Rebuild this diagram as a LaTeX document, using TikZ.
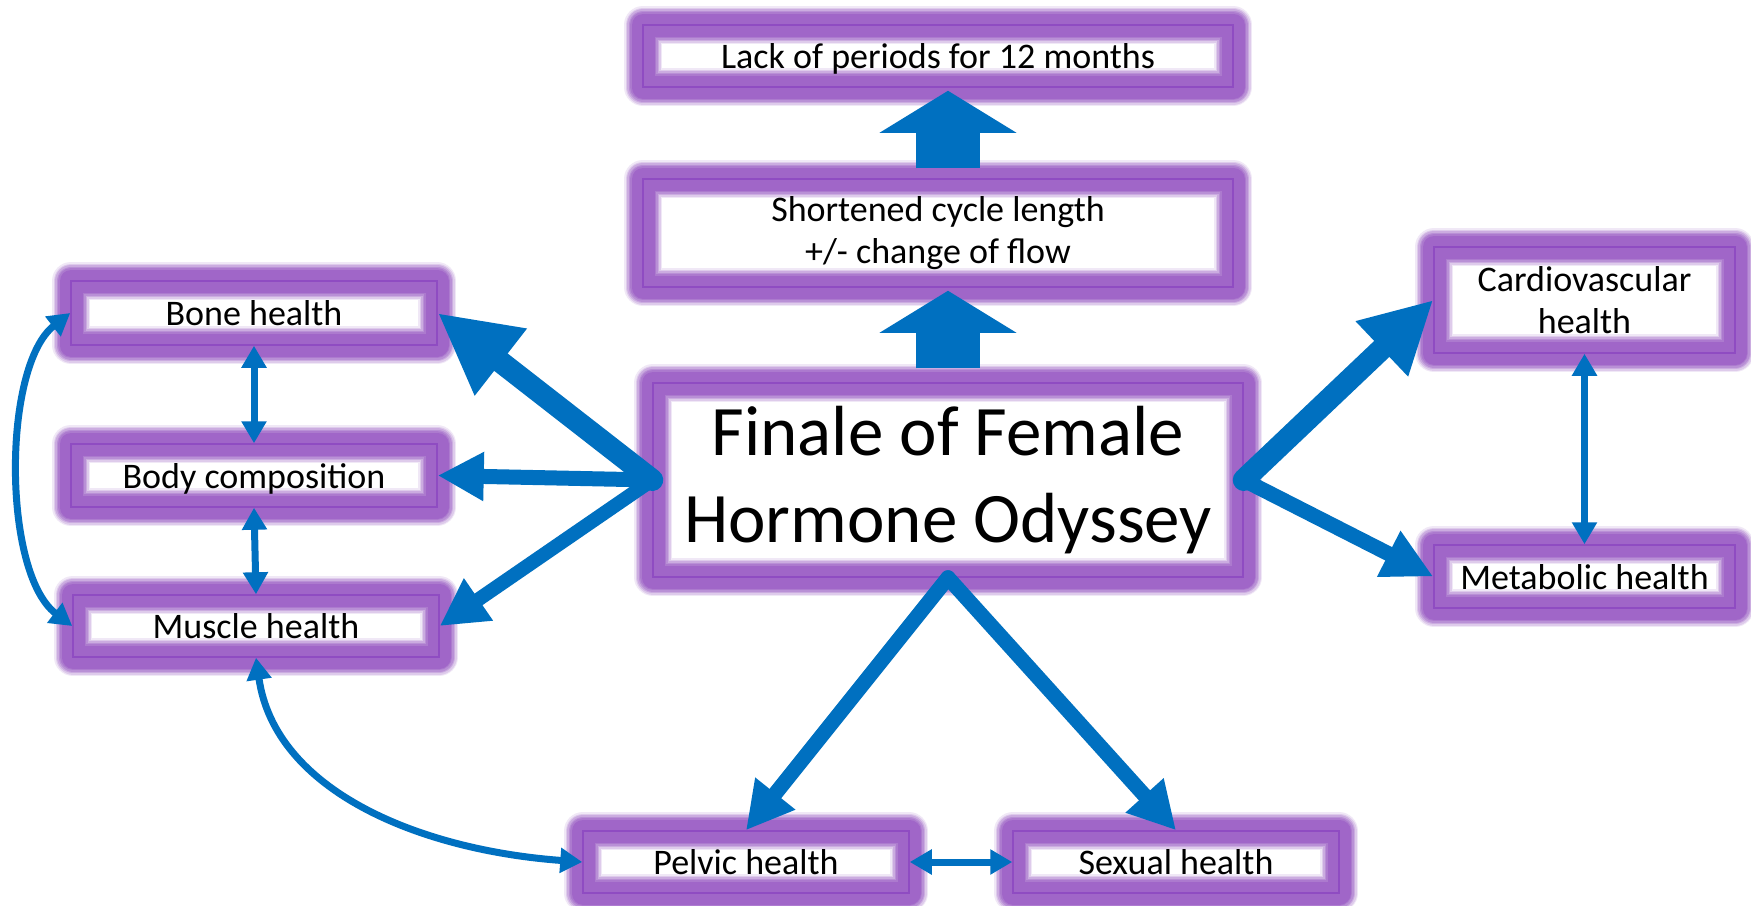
\documentclass[tikz,border=0pt]{standalone}
\usepackage{fontspec}
\setmainfont{Carlito}
\usetikzlibrary{arrows.meta,calc}
\definecolor{ablue}{RGB}{0,112,192}
\definecolor{glowp}{RGB}{160,102,200}
\definecolor{edgep}{RGB}{143,76,194}
\tikzset{
  box/.style={rectangle, inner sep=0pt, draw=edgep, line width=1.5pt,
    font=\fontsize{36}{42}\selectfont, align=center,
    preaction={draw=glowp, line width=38pt, draw opacity=0.15, line join=round},
    preaction={draw=glowp, line width=35pt, draw opacity=0.22, line join=round},
    preaction={draw=glowp, line width=32pt, draw opacity=0.3, line join=round},
    preaction={draw=glowp, line width=29pt, draw opacity=0.4, line join=round},
    preaction={draw=glowp, line width=26pt, draw opacity=0.5, line join=round},
    preaction={draw=glowp, line width=23pt, line join=round}},
  oneline/.style={text height=25pt, text depth=0pt},
  bigarrow/.style={draw=ablue, line cap=round},
  blockarrow/.style={draw=ablue, line width=64pt, line cap=butt,
    arrows={-Triangle[length=42pt,width=135pt]}},
  thinarrow/.style={draw=ablue, line width=7pt,
    arrows={Triangle[length=22pt,width=24pt]-Triangle[length=22pt,width=24pt]}},
}
\begin{document}
\begin{tikzpicture}[x=1pt,y=-1pt]
\fill[white] (0,0) rectangle (1751,905);
\useasboundingbox (0,0) rectangle (1751,905);

% boxes
\node[box, oneline, minimum width=590pt, minimum height=62pt] (lack) at (938,56) {Lack of periods for 12 months};
\node[box, minimum width=590pt, minimum height=108pt] (short) at (938,233) {Shortened cycle length\\+/- change of flow};
\node[box, font=\fontsize{71}{87}\selectfont, minimum width=590pt, minimum height=194pt] (main) at (948,480) {Finale of Female\\Hormone Odyssey};
\node[box, oneline, minimum width=366pt, minimum height=64pt] (bone) at (254,313) {Bone health};
\node[box, oneline, minimum width=366pt, minimum height=63pt] (body) at (254,475.5) {Body composition};
\node[box, oneline, minimum width=366pt, minimum height=62pt] (muscle) at (256,626) {Muscle health};
\node[box, minimum width=301pt, minimum height=106pt] (cardio) at (1584.5,300) {Cardiovascular\\health};
\node[box, oneline, minimum width=301pt, minimum height=63pt] (metab) at (1584.5,576.5) {Metabolic health};
\node[box, oneline, minimum width=326pt, minimum height=62pt] (pelvic) at (746,862) {Pelvic health};
\node[box, oneline, minimum width=326pt, minimum height=62pt] (sexual) at (1176,862) {Sexual health};

% block arrows upward
\draw[blockarrow] ($(main.north |- short.north)+(0,-10)$) -- ($(main.north |- lack.south)+(0,3)$);
\draw[blockarrow] ($(main.north)+(0,-14)$) -- ($(main.north |- short.south)+(0,3)$);

% hub arrows
\draw[bigarrow, line width=22pt, -{Triangle[length=80pt,width=79pt]}] (main.west) -- (bone.east);
\draw[bigarrow, line width=15pt, -{Triangle[length=46pt,width=46pt]}] (main.west) -- (body.east);
\draw[bigarrow, line width=14pt, -{Triangle[length=47pt,width=48pt]}] (main.west) -- (muscle.east);
\draw[bigarrow, line width=22pt, -{Triangle[length=71pt,width=71pt]}] (main.east) -- (cardio.west);
\draw[bigarrow, line width=15pt, -{Triangle[length=50pt,width=48pt]}] (main.east) -- (metab.west);
\draw[bigarrow, line width=15pt, -{Triangle[length=47pt,width=48pt]}] (main.south) -- (pelvic.north);
\draw[bigarrow, line width=15pt, -{Triangle[length=47pt,width=48pt]}] (main.south) -- (sexual.north);

% thin double arrows
\draw[thinarrow] (bone.south) -- (body.north);
\draw[thinarrow] (body.south) -- (muscle.north);
\draw[thinarrow] (cardio.south) -- (metab.north);
\draw[thinarrow] (pelvic.east) -- (sexual.west);
\draw[thinarrow] (bone.west) .. controls +(-68,53) and +(-70,-53) .. (muscle.west);
\draw[thinarrow] (muscle.south) .. controls +(19,133) and +(-163,-12) .. (pelvic.west);
\end{tikzpicture}
\end{document}
